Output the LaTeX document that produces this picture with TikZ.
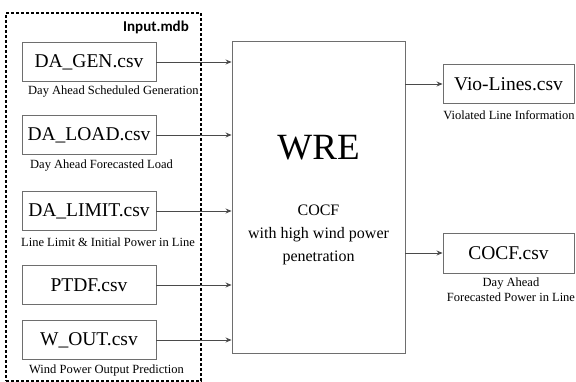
\documentclass[tikz,border=0pt]{standalone}
\usepackage{fontspec}
\setmainfont{Liberation Serif}
\newfontfamily\inputfont{Carlito}
\usetikzlibrary{arrows.meta}
\definecolor{boxgray}{HTML}{6E6E6E}
\definecolor{arrgray}{HTML}{4A4A4A}
\tikzset{
  filebox/.style={draw=boxgray, line width=0.9pt, fill=white, inner sep=0pt,
    font=\fontsize{19.5}{22}\selectfont},
  leftfile/.style={filebox, minimum width=134pt, minimum height=39pt},
  rightfile/.style={filebox, minimum width=131pt, minimum height=39pt},
  caption/.style={inner sep=0pt, font=\fontsize{12.5}{15}\selectfont},
  flow/.style={draw=arrgray, line width=0.8pt, -{Stealth[length=6pt,width=5pt]}},
  groupbox/.style={draw=black, line width=2.4pt, dash pattern=on 3pt off 2pt}
}
\begin{document}
\begin{tikzpicture}[x=1pt,y=-1pt]
\useasboundingbox (0,0) rectangle (576,382);
% group
\node[groupbox, minimum width=195pt, minimum height=368pt, inner sep=0pt] (grp) at (103.5,197) {};
\node[inner sep=0pt, font=\inputfont\bfseries\fontsize{15}{18}\selectfont] (inp) at (156,27) {Input.mdb};
% left files
\node[leftfile] (gen) at (89,62) {DA\_GEN.csv};
\node[caption, anchor=west] (genc) at (28,92) {Day Ahead Scheduled Generation};
\node[leftfile] (load) at (89,135) {DA\_LOAD.csv};
\node[caption, anchor=west] (loadc) at (30,166) {Day Ahead Forecasted Load};
\node[leftfile] (lim) at (89,211) {DA\_LIMIT.csv};
\node[caption, anchor=west] (limc) at (21,242) {Line Limit \& Initial Power in Line};
\node[leftfile] (ptdf) at (89,285) {PTDF.csv};
\node[leftfile] (wout) at (89,340) {W\_OUT.csv};
\node[caption, anchor=west] (woutc) at (29,370) {Wind Power Output Prediction};
% WRE
\node[draw=boxgray, line width=0.9pt, minimum width=173pt, minimum height=312pt, inner sep=0pt] (wre) at (318.5,197) {};
\node[inner sep=0pt, font=\fontsize{37}{40}\selectfont] (wret) at (318.5,148) {WRE};
\node[inner sep=0pt, align=center, font=\fontsize{16}{23}\selectfont] (wres) at (318.5,235) {COCF\\with high wind power\\penetration};
% right files
\node[rightfile] (vio) at (508.5,84) {Vio-Lines.csv};
\node[caption] (vioc) at (509,115) {Violated Line Information};
\node[rightfile, minimum height=40pt] (cocf) at (508.5,253) {COCF.csv};
\node[caption, align=center, font=\fontsize{12.5}{15}\selectfont] (cocfc) at (511,289.5) {Day Ahead\\Forecasted Power in Line};
% arrows
\foreach \s in {gen,load,lim,ptdf,wout}
  \draw[flow] (\s.east) -- (wre.west |- \s.east);
\draw[flow] (wre.east |- vio.west) -- (vio.west);
\draw[flow] (wre.east |- cocf.west) -- (cocf.west);
\end{tikzpicture}
\end{document}
